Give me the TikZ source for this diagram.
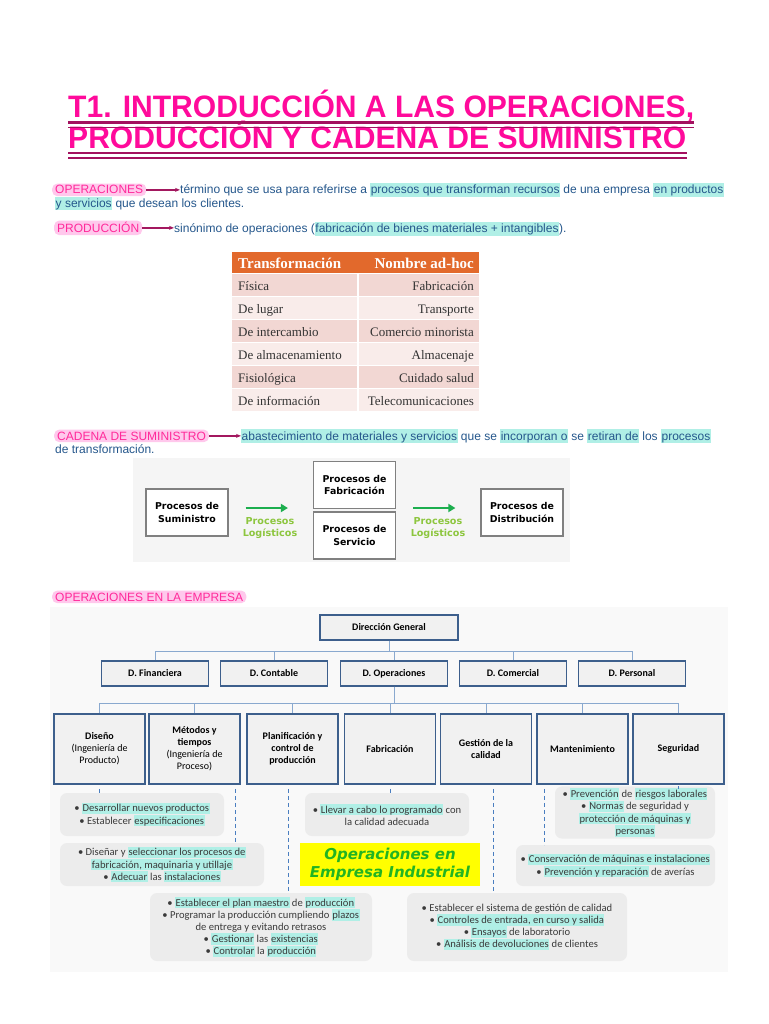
\documentclass[tikz,border=0pt]{standalone}
\usepackage{fontspec}
\setmainfont{Liberation Sans}
\newfontfamily\titlefont[FakeStretch=0.97]{Liberation Sans Bold}
\newfontfamily\tablefont{Liberation Serif}
\newfontfamily\orgfont{Carlito}
\newfontfamily\chainfont{DejaVu Sans}
\usetikzlibrary{arrows.meta,positioning,calc}
\definecolor{titlepink}{HTML}{FF0A9B}
\definecolor{ulinemag}{HTML}{A3115F}
\definecolor{labpink}{HTML}{FF2A9A}
\definecolor{labfill}{HTML}{FFC8EC}
\definecolor{bodyblue}{HTML}{25578C}
\definecolor{hlcyan}{HTML}{B0EFE6}
\definecolor{arrowmag}{HTML}{A3185F}
\definecolor{tabhead}{HTML}{E2692C}
\definecolor{tabA}{HTML}{F2D7D3}
\definecolor{tabB}{HTML}{F9ECEA}
\definecolor{tabtext}{HTML}{333333}
\definecolor{chainbg}{HTML}{F5F5F5}
\definecolor{chaingray}{HTML}{808080}
\definecolor{logigreen}{HTML}{8DC63F}
\definecolor{arrowgreen}{HTML}{1CAE4E}
\definecolor{orgbg}{HTML}{F9F9F9}
\definecolor{orgborder}{HTML}{3D5F8C}
\definecolor{orgfill}{HTML}{F1F1F1}
\definecolor{orgline}{HTML}{8AA9CF}
\definecolor{dashblue}{HTML}{4A7EC0}
\definecolor{bulletgray}{HTML}{ECECEC}
\definecolor{bullettext}{HTML}{3A3A3A}
\definecolor{badgeyellow}{HTML}{FFFF00}
\definecolor{badgegreen}{HTML}{22B422}
\newcommand{\hlt}[1]{{\setlength{\fboxsep}{0.5pt}\colorbox{hlcyan}{\vphantom{Áy}#1}}}
\tikzset{
  titletext/.style={anchor=base west, inner sep=0pt, text=titlepink,
    font=\titlefont\fontsize{31}{36}\selectfont},
  uline/.style={draw=ulinemag, line width=2.4pt},
  pinklab/.style={anchor=base west, fill=labfill, rounded corners=5pt, text=labpink,
    inner xsep=3pt, inner ysep=2pt, font=\fontsize{12}{14}\selectfont},
  body/.style={anchor=base west, inner sep=0pt, text=bodyblue,
    font=\fontsize{12}{14}\selectfont},
  magarrow/.style={-{Stealth[length=5pt,width=4pt]}, draw=arrowmag, line width=1.3pt},
  % table
  tabcell/.style={inner sep=0pt, text=tabtext, font=\tablefont\fontsize{13}{15}\selectfont},
  tabheadtxt/.style={inner sep=0pt, text=white, font=\tablefont\bfseries\fontsize{15}{17}\selectfont},
  % supply chain
  chainbox/.style={draw=chaingray, fill=white, line width=1.2pt, minimum width=82pt,
    minimum height=47pt, align=center, font=\chainfont\bfseries\fontsize{9.4}{12.5}\selectfont},
  logi/.style={text=logigreen, align=center, font=\chainfont\bfseries\fontsize{9.6}{12}\selectfont},
  greenarrow/.style={-{Triangle[length=7pt,width=8pt]}, draw=arrowgreen, line width=2.6pt},
  % org chart
  orgbox/.style={draw=orgborder, fill=orgfill, line width=1.6pt, align=center, inner sep=2pt,
    font=\orgfont\bfseries\fontsize{10}{12}\selectfont},
  drow/.style={orgbox, minimum width=107pt, minimum height=25pt, text height=7pt, text depth=2pt},
  lvtwo/.style={orgbox, minimum width=91pt, minimum height=70pt},
  orgwire/.style={draw=orgline, line width=1pt},
  dashline/.style={draw=dashblue, dashed, dash pattern=on 4pt off 3pt, line width=0.8pt},
  actbox/.style={fill=bulletgray, rounded corners=7pt, align=center, inner sep=2pt,
    text=bullettext, font=\orgfont\fontsize{10.6}{12.2}\selectfont},
  badge/.style={fill=badgeyellow, text=badgegreen, align=center,
    font=\chainfont\bfseries\itshape\fontsize{15}{18}\selectfont},
}
\begin{document}
\begin{tikzpicture}[x=1pt,y=-1pt]
  \useasboundingbox (0,0) rectangle (768,1024);
  \fill[white] (0,0) rectangle (768,1024);

  % title
  \node[titletext] (tit1) at (68,118) {T1. INTRODUCCIÓN A LAS OPERACIONES,};
  \node[titletext] (tit2) at (68,148.5) {PRODUCCIÓN Y CADENA DE SUMINISTRO};
  \foreach \t in {tit1,tit2} {
    \draw[uline] ($(\t.base west)+(0,4.5)$) -- ($(\t.base east)+(0,4.5)$);
    \draw[uline, line width=1.8pt] ($(\t.base west)+(0,9.5)$) -- ($(\t.base east)+(0,9.5)$);
  }

  % definitions
  \node[pinklab] (opLab) at (52,194) {OPERACIONES};
  \node[body] (opDef) at (180,194) {término que se usa para referirse a \hlt{procesos que transforman recursos} de una empresa \hlt{en productos}};
  \node[body] (opDefb) at (55,207.5) {\hlt{y servicios} que desean los clientes.};
  \draw[magarrow] (opLab.east) -- (opLab.east -| opDef.west);

  \node[pinklab] (prLab) at (54,233) {PRODUCCIÓN};
  \node[body] (prDef) at (174,233) {sinónimo de operaciones (\hlt{fabricación de bienes materiales + intangibles}).};
  \draw[magarrow] (prLab.east) -- (prLab.east -| prDef.west);

  % table
  \fill[tabhead] (232,252) rectangle (479,273);
  \node[tabheadtxt, anchor=base west] (thL) at (238,268) {Transformación};
  \node[tabheadtxt, anchor=base east] (thR) at (474,268) {Nombre ad-hoc};
  \foreach \i/\a/\b/\c in {0/Física/Fabricación/tabA, 1/De lugar/Transporte/tabB,
      2/De intercambio/Comercio minorista/tabA, 3/De almacenamiento/Almacenaje/tabB,
      4/Fisiológica/Cuidado salud/tabA, 5/De información/Telecomunicaciones/tabB} {
    \pgfmathsetmacro{\yy}{274+\i*23}
    \fill[\c] (232,\yy) rectangle (357,\yy+22);
    \fill[\c] (359,\yy) rectangle (479,\yy+22);
    \node[tabcell, anchor=base west] (tl\i) at (238,\yy+16) {\a};
    \node[tabcell, anchor=base east] (tr\i) at (474,\yy+16) {\b};
  }

  % supply chain
  \node[pinklab] (cadLab) at (54,440) {CADENA DE SUMINISTRO};
  \node[body] (cadDef) at (241,440) {\hlt{abastecimiento de materiales y servicios} que se \hlt{incorporan o} se \hlt{retiran de} los \hlt{procesos}};
  \node[body] (cadDefb) at (55,453) {de transformación.};
  \draw[magarrow] (cadLab.east) -- (cadLab.east -| cadDef.west);

  \fill[chainbg] (133,458) rectangle (570,562);
  \node[chainbox] (sumi) at (187,512.5) {Procesos de\\Suministro};
  \node[chainbox] (fabr) at (354.5,485) {Procesos de\\Fabricación};
  \node[chainbox] (serv) at (354.5,535.5) {Procesos de\\Servicio};
  \node[chainbox] (dist) at (522,512.5) {Procesos de\\Distribución};
  \draw[greenarrow, shorten <=17pt, shorten >=25pt] ([yshift=4.5pt]sumi.east) -- ([yshift=4.5pt]sumi.east -| fabr.west);
  \draw[greenarrow, shorten <=17pt, shorten >=25pt] ([yshift=4.5pt]dist.west -| fabr.east) -- ([yshift=4.5pt]dist.west);
  \node[logi] (logiA) at (270,528) {Procesos\\Logísticos};
  \node[logi] (logiB) at (438,528) {Procesos\\Logísticos};

  % company chart
  \node[pinklab] (empLab) at (52,601) {OPERACIONES EN LA EMPRESA};
  \fill[orgbg] (50,607) rectangle (728,972);

  \node[orgbox, minimum width=138pt, minimum height=25pt, text height=7pt, text depth=2pt] (dg) at (389,627.5) {Dirección General};
  \coordinate (busA) at (389,651);
  \foreach \n/\x/\t in {dfin/155/D. Financiera, dcon/274/D. Contable, dope/394/D. Operaciones,
      dcom/513/D. Comercial, dper/632/D. Personal} {
    \node[drow] (\n) at (\x,673.5) {\t};
    \draw[orgwire] (dg.south) -- (busA) -| (\n.north);
  }

  \node[lvtwo] (dis) at (99.5,749) {Diseño\\\mdseries(Ingeniería de\\\mdseries Producto)};
  \node[lvtwo] (met) at (194.5,749) {Métodos y\\tiempos\\\mdseries(Ingeniería de\\\mdseries Proceso)};
  \node[lvtwo] (pla) at (292.5,749) {Planificación y\\control de\\producción};
  \node[lvtwo] (fab) at (390,749) {Fabricación};
  \node[lvtwo] (ges) at (486,749) {Gestión de la\\calidad};
  \node[lvtwo] (man) at (582.5,749) {Mantenimiento};
  \node[lvtwo] (seg) at (678.5,749) {Seguridad};
  \coordinate (busB) at (394,703);
  \foreach \n in {dis,met,pla,fab,ges,man,seg}
    \draw[orgwire] (dope.south) -- (busB) -| (\n.north);

  % tasks
  \node[actbox, minimum width=164pt, minimum height=43pt] (act1) at (142,814.5)
    {• \hlt{Desarrollar nuevos productos}\\• Establecer \hlt{especificaciones}};
  \node[actbox, minimum width=204pt, minimum height=43pt] (act2) at (162,864.5)
    {• Diseñar y \hlt{seleccionar los procesos de}\\\hlt{fabricación,  maquinaria y utillaje}\\• \hlt{Adecuar} las \hlt{instalaciones}};
  \node[actbox, minimum width=164pt, minimum height=43pt] (act3) at (387,814.5)
    {• \hlt{Llevar a cabo lo programado} con\\la calidad adecuada};
  \node[badge, minimum width=180pt, minimum height=43pt] (badge) at (390,864.5)
    {Operaciones en\\Empresa Industrial};
  \node[actbox, minimum width=160pt, minimum height=50pt] (act5) at (635,812.5)
    {• \hlt{Prevención} de \hlt{riesgos laborales}\\• \hlt{Normas} de seguridad y\\\hlt{protección de máquinas y}\\\hlt{personas}};
  \node[actbox, minimum width=199pt, minimum height=41pt] (act6) at (615.5,865.5)
    {• \hlt{Conservación de máquinas e instalaciones}\\• \hlt{Prevención y reparación} de averías};
  \node[actbox, minimum width=222pt, minimum height=68pt] (act7) at (261,927)
    {• \hlt{Establecer el plan maestro} de \hlt{producción}\\• Programar la producción cumpliendo \hlt{plazos}\\de entrega y evitando retrasos\\• \hlt{Gestionar} las \hlt{existencias}\\• \hlt{Controlar} la \hlt{producción}};
  \node[actbox, minimum width=220pt, minimum height=68pt] (act8) at (517,927)
    {• Establecer el sistema de gestión de calidad\\• \hlt{Controles de entrada, en curso y salida}\\• \hlt{Ensayos} de laboratorio\\• \hlt{Análisis de devoluciones} de clientes};

  \draw[dashline] ([yshift=-4pt]dis.south) -- (dis.south |- act1.north);
  \draw[dashline] ([xshift=-5pt,yshift=-4pt]met.south east) -- ([xshift=-5pt]met.south east |- act2.north);
  \draw[dashline] ([xshift=-4pt,yshift=-4pt]pla.south) -- ([xshift=-4pt]pla.south |- act7.north);
  \draw[dashline] ([yshift=-4pt]fab.south) -- (fab.south |- act3.north);
  \draw[dashline] ([xshift=7pt,yshift=-4pt]ges.south) -- ([xshift=7pt]ges.south |- act8.north);
  \draw[dashline] ([xshift=8pt,yshift=-4pt]man.south west) -- ([xshift=8pt]man.south west |- act6.north);
  \draw[dashline] ([yshift=-4pt]seg.south) -- (seg.south |- act5.north);
\end{tikzpicture}
\end{document}
